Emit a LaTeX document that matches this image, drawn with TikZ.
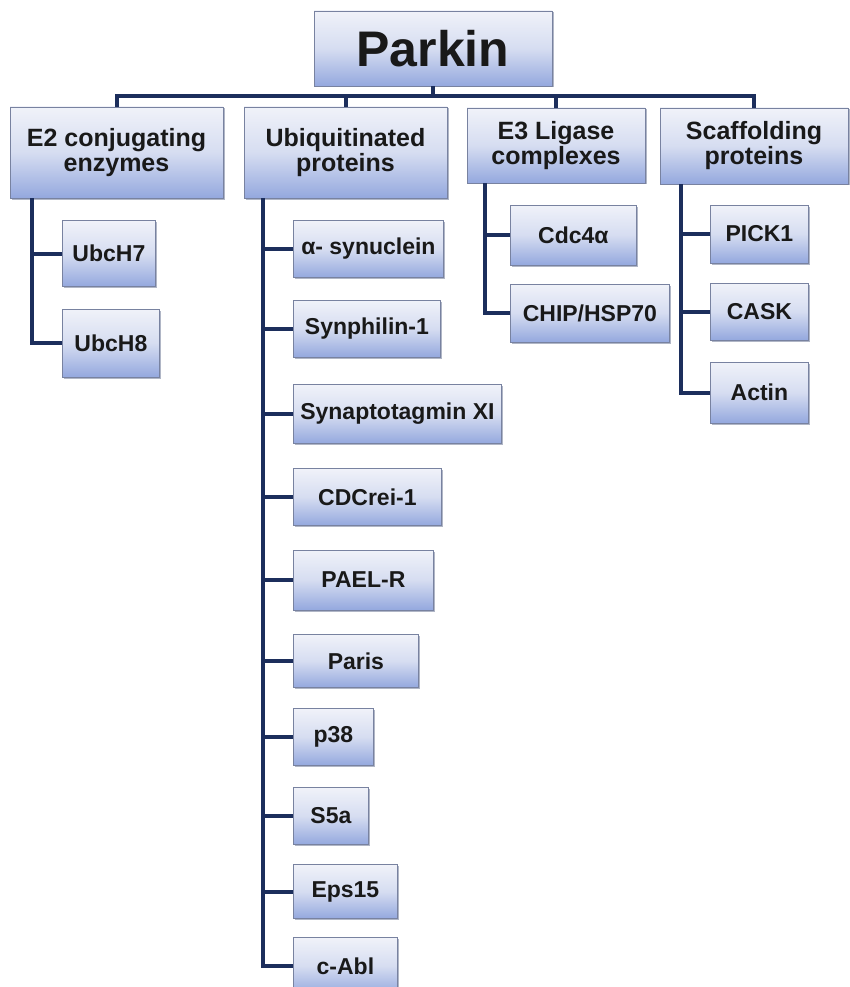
\documentclass[tikz,border=0pt]{standalone}
\usepackage{fontspec}
\setmainfont{Liberation Sans}
\usetikzlibrary{shadows}
\definecolor{boxtop}{RGB}{240,242,249}
\definecolor{boxmid}{RGB}{214,221,241}
\definecolor{boxbot}{RGB}{148,168,222}
\definecolor{boxline}{RGB}{120,130,160}
\definecolor{linkblue}{RGB}{28,46,92}
\tikzset{
  pbox/.style={rectangle, draw=boxline, line width=0.8pt, top color=boxtop, bottom color=boxbot, middle color=boxmid,
    drop shadow={shadow xshift=1.5pt, shadow yshift=-1.5pt, opacity=0.35, fill=linkblue},
    inner sep=0pt, align=center, text=black!90, font=\bfseries\fontsize{23}{25}\selectfont},
  headbox/.style={pbox, font=\bfseries\fontsize{25}{25}\selectfont},
  kid/.style={pbox, anchor=west, minimum height=57pt},
  link/.style={draw=linkblue, line width=4pt},
}
\begin{document}
\begin{tikzpicture}[x=1pt, y=-1pt]
  \useasboundingbox (0,0) rectangle (850,987);
  % top box
  \node[pbox, font=\bfseries\fontsize{50}{55}\selectfont, minimum width=238pt, minimum height=75pt] (parkin) at (433,48.5) {Parkin};
  % groups
  \node[headbox, minimum width=213pt, minimum height=91pt] (e2) at (116.5,152.5) {E2 conjugating\\enzymes};
  \node[headbox, minimum width=203pt, minimum height=91pt] (ubq) at (345.5,152.5) {Ubiquitinated\\proteins};
  \node[headbox, minimum width=178pt, minimum height=75pt] (e3) at (556,145.5) {E3 Ligase\\complexes};
  \node[headbox, minimum width=188pt, minimum height=76pt] (scaf) at (754,146) {Scaffolding\\proteins};
  % E2 members
  \node[kid, minimum width=93pt, minimum height=66pt] (ubch7) at (62,253.5) {UbcH7};
  \node[kid, minimum width=97pt, minimum height=68pt] (ubch8) at (62,343) {UbcH8};
  % ubiquitinated substrates
  \node[kid, minimum width=150pt] (asyn) at (293,249) {α- synuclein};
  \node[kid, minimum width=147pt] (synph) at (293,328.5) {Synphilin-1};
  \node[kid, minimum width=208pt, minimum height=59pt] (syt) at (293,414) {Synaptotagmin XI};
  \node[kid, minimum width=148pt] (cdcrel) at (293,497) {CDCrei-1};
  \node[kid, minimum width=140pt, minimum height=60pt] (pael) at (293,580) {PAEL-R};
  \node[kid, minimum width=125pt, minimum height=53pt] (paris) at (293,661) {Paris};
  \node[kid, minimum width=80pt] (p38) at (293,737) {p38};
  \node[kid, minimum width=75pt] (s5a) at (293,816) {S5a};
  \node[kid, minimum width=104pt, minimum height=54pt] (eps) at (293,891.5) {Eps15};
  \node[kid, minimum width=104pt] (cabl) at (293,966) {c-Abl};
  % E3 partners
  \node[kid, minimum width=126pt, minimum height=60pt] (cdc4) at (510,235) {Cdc4α};
  \node[kid, minimum width=159pt, minimum height=58pt] (chip) at (510,313) {CHIP/HSP70};
  % scaffolds
  \node[kid, minimum width=98pt, minimum height=58pt] (pick) at (710,234) {PICK1};
  \node[kid, minimum width=98pt, minimum height=57pt] (cask) at (710,311.5) {CASK};
  \node[kid, minimum width=98pt, minimum height=61pt] (actin) at (710,392.5) {Actin};
  % top bar
  \coordinate (bar) at (0,96);
  \draw[link] (parkin.south) -- (parkin.south |- bar);
  \draw[link] (e2.north) -- (e2.north |- bar) -- (scaf.north |- bar) -- (scaf.north);
  \draw[link] (ubq.north) -- (ubq.north |- bar);
  \draw[link] (e3.north) -- (e3.north |- bar);
  % spines
  \coordinate (e2spine) at (32,0);
  \coordinate (ubqspine) at (263,0);
  \coordinate (e3spine) at (485,0);
  \coordinate (scafspine) at (681,0);
  \draw[link] (e2spine |- e2.south) |- (ubch8.west);
  \draw[link] (e2spine |- ubch7.west) -- (ubch7.west);
  \draw[link] (ubqspine |- ubq.south) |- (cabl.west);
  \draw[link] (ubqspine |- asyn.west) -- (asyn.west);
  \draw[link] (ubqspine |- synph.west) -- (synph.west);
  \draw[link] (ubqspine |- syt.west) -- (syt.west);
  \draw[link] (ubqspine |- cdcrel.west) -- (cdcrel.west);
  \draw[link] (ubqspine |- pael.west) -- (pael.west);
  \draw[link] (ubqspine |- paris.west) -- (paris.west);
  \draw[link] (ubqspine |- p38.west) -- (p38.west);
  \draw[link] (ubqspine |- s5a.west) -- (s5a.west);
  \draw[link] (ubqspine |- eps.west) -- (eps.west);
  \draw[link] (e3spine |- e3.south) |- (chip.west);
  \draw[link] (e3spine |- cdc4.west) -- (cdc4.west);
  \draw[link] (scafspine |- scaf.south) |- (actin.west);
  \draw[link] (scafspine |- pick.west) -- (pick.west);
  \draw[link] (scafspine |- cask.west) -- (cask.west);
\end{tikzpicture}
\end{document}
